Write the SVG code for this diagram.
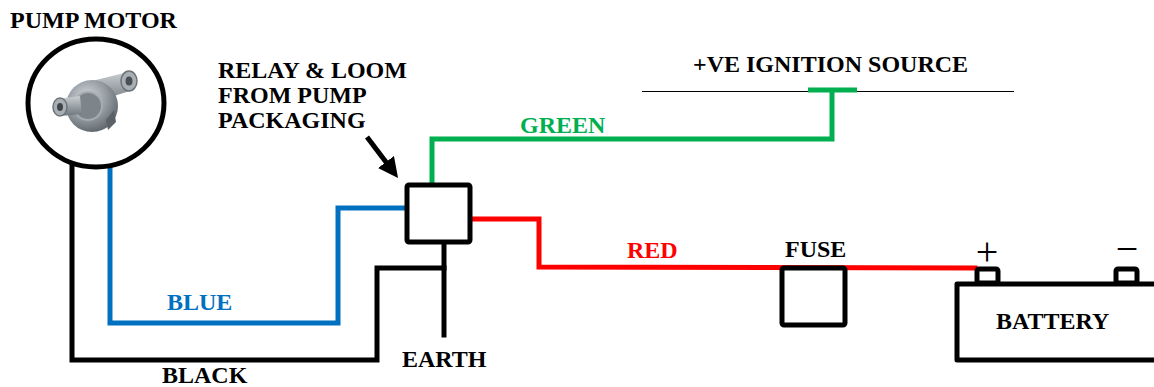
<svg xmlns="http://www.w3.org/2000/svg" width="1154" height="387" viewBox="0 0 1154 387">
<style>
.t{font-family:"Liberation Serif","Times New Roman",serif;font-weight:bold;font-size:24px;fill:#000}
.w{fill:none;stroke-width:5;stroke-linejoin:miter;stroke-linecap:square}
.box{fill:#fff;stroke:#000;stroke-width:5;stroke-linejoin:round}
.sign{font-family:"Liberation Serif","Times New Roman",serif;font-size:40px;fill:#000}
</style>
<defs>
<marker id="ah" markerWidth="4" markerHeight="4" refX="2" refY="2" orient="auto" markerUnits="strokeWidth">
<path d="M0,0 L4,2 L0,4 z" fill="#000"/>
</marker>
<radialGradient id="metal" cx="0.4" cy="0.35" r="0.7">
<stop offset="0" stop-color="#d6dadd"/>
<stop offset="0.6" stop-color="#8e969c"/>
<stop offset="1" stop-color="#5b6267"/>
</radialGradient>
<linearGradient id="tube" x1="0" y1="0" x2="0" y2="1">
<stop offset="0" stop-color="#c9ced1"/>
<stop offset="1" stop-color="#6f777c"/>
</linearGradient>
</defs>

<g id="connectors">
<polyline class="w" stroke="#000" points="72,167 72,360 377,360 377,268 444,268"/>
<line class="w" stroke="#000" x1="444" y1="243" x2="444" y2="335"/>
<polyline class="w" stroke="#0070C0" points="110,167 110,323 338,323 338,208 406,208"/>
<polyline class="w" stroke="#00B050" points="432,185 432,139 832,139 832,91"/>
<polyline class="w" stroke="#FF0000" points="470,219 539,219 539,267 975,268"/>
<line x1="367" y1="137" x2="392" y2="170" stroke="#000" stroke-width="5" marker-end="url(#ah)"/>
</g>

<g id="pump-motor">
<ellipse cx="96" cy="103" rx="68" ry="64" fill="#fff" stroke="#000" stroke-width="5"/>
<g id="pump-picture">
<path d="M80,84 L128,72 L133,90 L88,104 z" fill="url(#tube)"/>
<ellipse cx="129" cy="81" rx="8" ry="10" fill="#a9b0b4" stroke="#6c7378" stroke-width="1.5"/>
<ellipse cx="129" cy="81" rx="3.5" ry="4.5" fill="#4a5055"/>
<circle cx="92" cy="106" r="26" fill="url(#metal)"/>
<circle cx="88" cy="106" r="14" fill="#7d858a" stroke="#a6adb1" stroke-width="2"/>
<path d="M58,99 L80,96 L82,114 L60,116 z" fill="url(#tube)"/>
<ellipse cx="60" cy="107" rx="7" ry="9" fill="#a9b0b4" stroke="#6c7378" stroke-width="1.5"/>
<ellipse cx="60" cy="107" rx="3" ry="4" fill="#3f4549"/>
<path d="M106,120 L114,110 L116,122 L108,130 z" fill="#5b6267"/>
</g>
<text class="t" x="10" y="28">PUMP MOTOR</text>
</g>

<g id="relay">
<rect class="box" x="407" y="185" width="63" height="57" rx="2"/>
<text class="t" x="218" y="78">RELAY &amp; LOOM</text>
<text class="t" x="218" y="103">FROM PUMP</text>
<text class="t" x="218" y="128">PACKAGING</text>
</g>

<g id="ignition">
<line x1="642" y1="91.5" x2="1014" y2="91.5" stroke="#000" stroke-width="1.2"/>
<line x1="808" y1="90" x2="857" y2="90" stroke="#00B050" stroke-width="5"/>
<text class="t" x="693" y="72">+VE IGNITION SOURCE</text>
</g>

<g id="fuse">
<rect class="box" x="782" y="268" width="63" height="57" rx="2"/>
<text class="t" x="785" y="257">FUSE</text>
</g>

<g id="battery">
<path d="M1160,284 L957,284 L957,360 L1160,360" fill="#fff" stroke="#000" stroke-width="5" stroke-linejoin="round"/>
<rect class="box" x="977" y="269" width="21" height="14" rx="2"/>
<rect class="box" x="1116" y="269" width="21" height="14" rx="2"/>
<text class="sign" x="987" y="265" text-anchor="middle">+</text>
<text class="sign" x="1127" y="262" text-anchor="middle">−</text>
<text class="t" x="996" y="329">BATTERY</text>
</g>

<g id="labels">
<text class="t" x="520" y="133" style="fill:#00B050">GREEN</text>
<text class="t" x="167" y="310" style="fill:#0070C0">BLUE</text>
<text class="t" x="627" y="258" style="fill:#FF0000">RED</text>
<text class="t" x="402" y="367">EARTH</text>
<text class="t" x="162" y="383">BLACK</text>
</g>
</svg>
